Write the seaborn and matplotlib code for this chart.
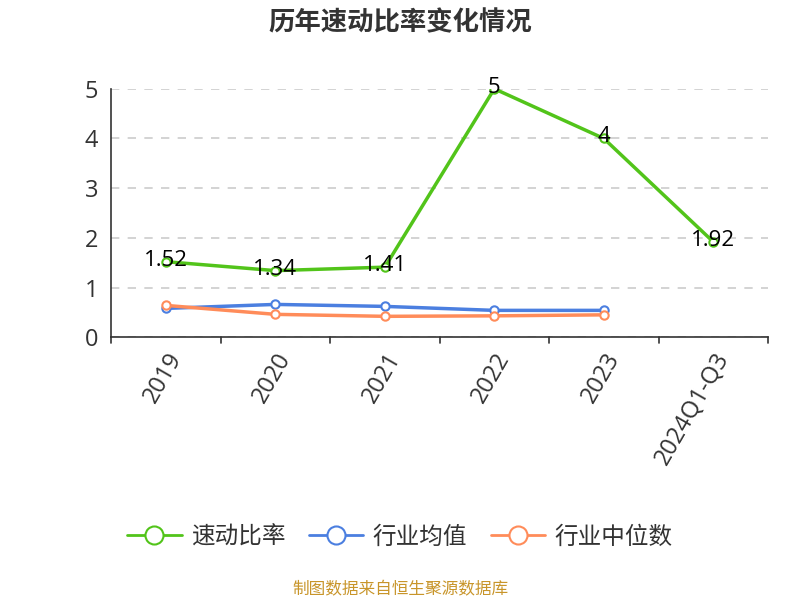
import pandas as pd
import seaborn as sns
import matplotlib.pyplot as plt

years = ["2019", "2020", "2021", "2022", "2023", "2024Q1-Q3"]
quick_ratio = [1.52, 1.34, 1.41, 5, 4, 1.92]
ind_mean = [0.58, 0.66, 0.62, 0.54, 0.54]
ind_median = [0.64, 0.46, 0.42, 0.43, 0.45]

names = ["速动比率", "行业均值", "行业中位数"]
colors = ["#52c41a", "#4b7fe0", "#ff8c5a"]

df = pd.concat([
    pd.DataFrame({"year": years, "value": quick_ratio, "series": names[0]}),
    pd.DataFrame({"year": years[:5], "value": ind_mean, "series": names[1]}),
    pd.DataFrame({"year": years[:5], "value": ind_median, "series": names[2]}),
])
df["x"] = df["year"].map({y: i for i, y in enumerate(years)})

sns.set_style("white")
plt.rcParams['font.family'] = ['Noto Sans CJK SC', 'DejaVu Sans']
num_font = ['Open Sans', 'DejaVu Sans']

fig = plt.figure(figsize=(8, 6), dpi=100)
ax = fig.add_axes([0.139, 0.438, 0.821, 0.414])

sns.lineplot(data=df, x="x", y="value", hue="series", hue_order=names,
             palette=dict(zip(names, colors)), linewidth=2.5, marker="o",
             markersize=6, markerfacecolor="white", markeredgewidth=1.5,
             ax=ax, legend=False)
for ln, c in zip(ax.lines, colors):
    ln.set_markeredgecolor(c)

for i, v in enumerate(quick_ratio):
    ax.text(i, v + 0.03, f"{v:g}", ha="center", va="center", fontsize=16,
            color="black", family=num_font)

ax.set_xlim(-0.5, 5.5)
ax.set_ylim(0, 5)
ax.set_yticks(range(6))
ax.set_xticks(range(len(years)))
ax.set_xticklabels(years, rotation=60, ha="right", rotation_mode="anchor",
                   fontsize=17, color="#333333", family=num_font)
for t in ax.get_yticklabels():
    t.set_family(num_font)
ax.tick_params(axis="y", labelsize=17, labelcolor="#333333", length=6, color="#333333")
ax.tick_params(axis="x", length=0, pad=8)
for b in [-0.5 + k for k in range(7)]:
    ax.plot([b, b], [0, -0.12], color="#333333", lw=1.2, clip_on=False)
ax.yaxis.grid(True, linestyle=(0, (5, 5)), color="#cccccc", lw=1.2)
for s in ["top", "right"]:
    ax.spines[s].set_visible(False)
ax.spines["left"].set_color("#333333")
ax.spines["bottom"].set_color("#333333")
ax.spines["left"].set_linewidth(1.2)
ax.spines["bottom"].set_linewidth(1.2)
ax.set_xlabel("")
ax.set_ylabel("")

fig.text(0.5, 0.962, "历年速动比率变化情况", ha="center", va="center", fontsize=19,
         fontweight="bold", color="#333333")

handles = [plt.Line2D([], [], color=c, lw=2, marker="o", markersize=13,
                      markerfacecolor="white", markeredgewidth=1.5) for c in colors]
fig.legend(handles, names, loc="center", bbox_to_anchor=(0.5, 0.105), ncol=3,
           frameon=False, fontsize=17, handlelength=2.3, columnspacing=1.0,
           handletextpad=0.4, labelcolor="#333333")

fig.text(0.5, 0.017, "制图数据来自恒生聚源数据库", ha="center", va="center", fontsize=12,
         color="#c8952a")

fig.savefig("out.png", dpi=100)
